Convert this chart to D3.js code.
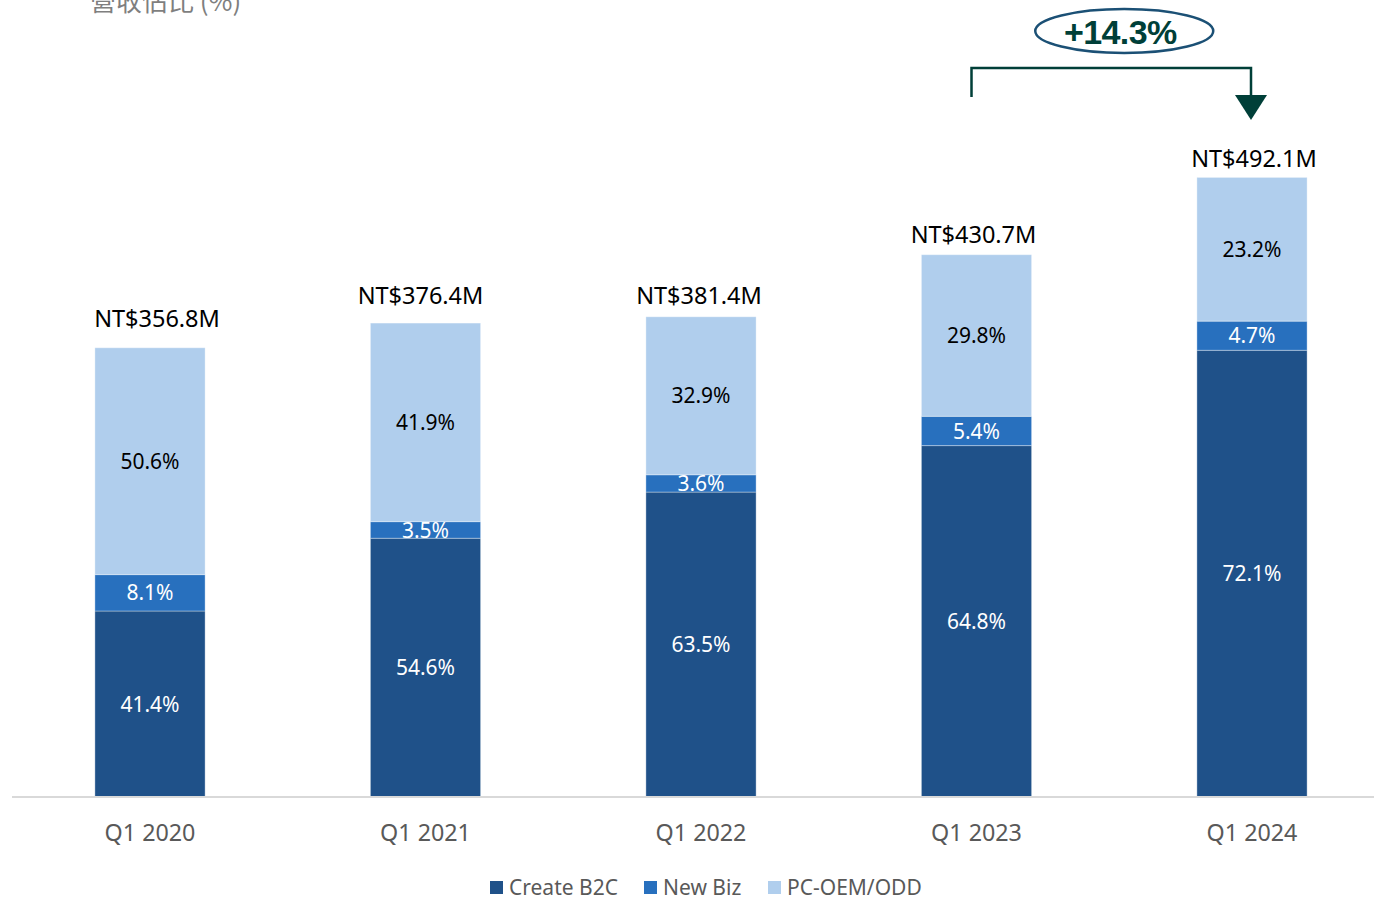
<!DOCTYPE html>
<html>
<head>
<meta charset="utf-8">
<script src="https://cdn.jsdelivr.net/npm/d3@7"></script>
<style>
    body { margin: 0; background: #fff; }
    svg { display: block; }
</style>
</head>
<body>
<div id="chart"></div>
<script>
const quarters = ['Q1 2020', 'Q1 2021', 'Q1 2022', 'Q1 2023', 'Q1 2024'];
const totals = [356.8, 376.4, 381.4, 430.7, 492.1];
const createB2C = [41.4, 54.6, 63.5, 64.8, 72.1];
const newBiz = [8.1, 3.5, 3.6, 5.4, 4.7];
const pcOem = [50.6, 41.9, 32.9, 29.8, 23.2];
const seriesNames = ['Create B2C', 'New Biz', 'PC-OEM/ODD'];
const growthLabel = '+14.3%';

const width = 1374, height = 898;
const colors = ['#1F5189', '#2870BE', '#B0CEED'];
const labelColors = ['#fff', '#fff', '#000'];
const font = '"Noto Sans", "Open Sans", sans-serif';
// total labels were nudged by hand in the source
const totalGap = [21, 19, 13, 12, 10];
const totalShift = [7, -5, -2, -3, 2];

const svg = d3.select('#chart')
    .append('svg')
    .attr('width', width)
    .attr('height', height);

// rows: amount of each segment in NT$M
let rows = quarters.map(function (q, i) {
    return {
        quarter: q,
        pct: [createB2C[i], newBiz[i], pcOem[i]],
        'Create B2C': totals[i] * createB2C[i] / 100,
        'New Biz': totals[i] * newBiz[i] / 100,
        'PC-OEM/ODD': totals[i] * pcOem[i] / 100
    };
});
// keep the last segment ending at the total
rows.forEach(function (r, i) {
    r['PC-OEM/ODD'] = totals[i] - r['Create B2C'] - r['New Biz'];
});

const stacked = d3.stack().keys(seriesNames)(rows);

let x = d3.scaleBand()
    .domain(quarters)
    .range([12.25, 1389.75])
    .paddingInner(0.6)
    .paddingOuter(0.3);

let y = d3.scaleLinear()
    .domain([0, 633])
    .range([797, 0]);

// title, cut off at the top like the source
svg.append('text')
    .attr('x', 90)
    .attr('y', 11)
    .attr('font-family', '"Noto Sans CJK TC", sans-serif')
    .attr('font-size', 26)
    .attr('fill', '#7f7f7f')
    .text('營收佔比 (%)');

// bars
let groups = svg.selectAll('g.series')
    .data(stacked)
    .enter().append('g')
    .attr('class', 'series')
    .attr('fill', function (d, i) { return colors[i]; });

groups.selectAll('rect')
    .data(function (d) { return d; })
    .enter().append('rect')
    .attr('x', function (d) { return x(d.data.quarter); })
    .attr('y', function (d) { return y(d[1]); })
    .attr('width', x.bandwidth())
    .attr('height', function (d) { return y(d[0]) - y(d[1]); })
    .attr('stroke', '#ffffff')
    .attr('stroke-opacity', 0.35)
    .attr('stroke-width', 1);

// segment labels
stacked.forEach(function (s, si) {
    svg.append('g').selectAll('text')
        .data(s)
        .enter().append('text')
        .attr('x', function (d) { return x(d.data.quarter) + x.bandwidth() / 2; })
        .attr('y', function (d) { return (y(d[0]) + y(d[1])) / 2; })
        .attr('dy', '0.36em')
        .attr('text-anchor', 'middle')
        .attr('font-family', font)
        .attr('font-size', 21)
        .attr('fill', labelColors[si])
        .text(function (d) { return d.data.pct[si].toFixed(1) + '%'; });
});

// totals
svg.append('g').selectAll('text')
    .data(quarters)
    .enter().append('text')
    .attr('x', function (d, i) { return x(d) + x.bandwidth() / 2 + totalShift[i]; })
    .attr('y', function (d, i) { return y(totals[i]) - totalGap[i]; })
    .attr('text-anchor', 'middle')
    .attr('font-family', font)
    .attr('font-size', 23.5)
    .attr('fill', '#000')
    .text(function (d, i) { return 'NT$' + totals[i].toFixed(1) + 'M'; });

// x axis
let xAxis = d3.axisBottom(x).tickSize(0).tickPadding(27);
let axisG = svg.append('g')
    .attr('transform', 'translate(0,' + y(0) + ')')
    .call(xAxis);
axisG.select('.domain').remove();
axisG.selectAll('text')
    .attr('font-family', font)
    .attr('font-size', 23.3)
    .attr('fill', '#595959');
svg.append('line')
    .attr('x1', 12).attr('x2', width)
    .attr('y1', y(0)).attr('y2', y(0))
    .attr('stroke', '#d9d9d9')
    .attr('stroke-width', 2);

// growth annotation
const ax0 = x(quarters[3]) + x.bandwidth() / 2 - 5;
const ax1 = x(quarters[4]) + x.bandwidth() / 2 - 1;
const annColor = '#003F38';
svg.append('path')
    .attr('d', 'M' + ax0 + ',97V68H' + ax1 + 'V98')
    .attr('fill', 'none')
    .attr('stroke', annColor)
    .attr('stroke-width', 2.5);
svg.append('path')
    .attr('d', 'M' + (ax1 - 16) + ',95L' + (ax1 + 16) + ',95L' + ax1 + ',120Z')
    .attr('fill', annColor);
const ecx = (ax0 + ax1) / 2 + 13;
svg.append('ellipse')
    .attr('cx', ecx).attr('cy', 31)
    .attr('rx', 89).attr('ry', 22)
    .attr('fill', '#fff')
    .attr('stroke', '#1B5075')
    .attr('stroke-width', 2.5);
svg.append('text')
    .attr('x', ecx - 4).attr('y', 44)
    .attr('text-anchor', 'middle')
    .attr('font-family', '"Liberation Sans", Arial, sans-serif')
    .attr('font-weight', 'bold')
    .attr('font-size', 34)
    .attr('letter-spacing', -0.6)
    .attr('fill', annColor)
    .text(growthLabel);

// legend
const legendX = [490, 644, 768];
let legend = svg.append('g').selectAll('g')
    .data(seriesNames)
    .enter().append('g')
    .attr('transform', function (d, i) { return 'translate(' + legendX[i] + ',881)'; });
legend.append('rect')
    .attr('width', 13).attr('height', 13)
    .attr('fill', function (d, i) { return colors[i]; });
legend.append('text')
    .attr('x', 19).attr('y', 6.5)
    .attr('dy', '0.36em')
    .attr('font-family', font)
    .attr('font-size', 21)
    .attr('fill', '#595959')
    .text(function (d) { return d; });
</script>
</body>
</html>
